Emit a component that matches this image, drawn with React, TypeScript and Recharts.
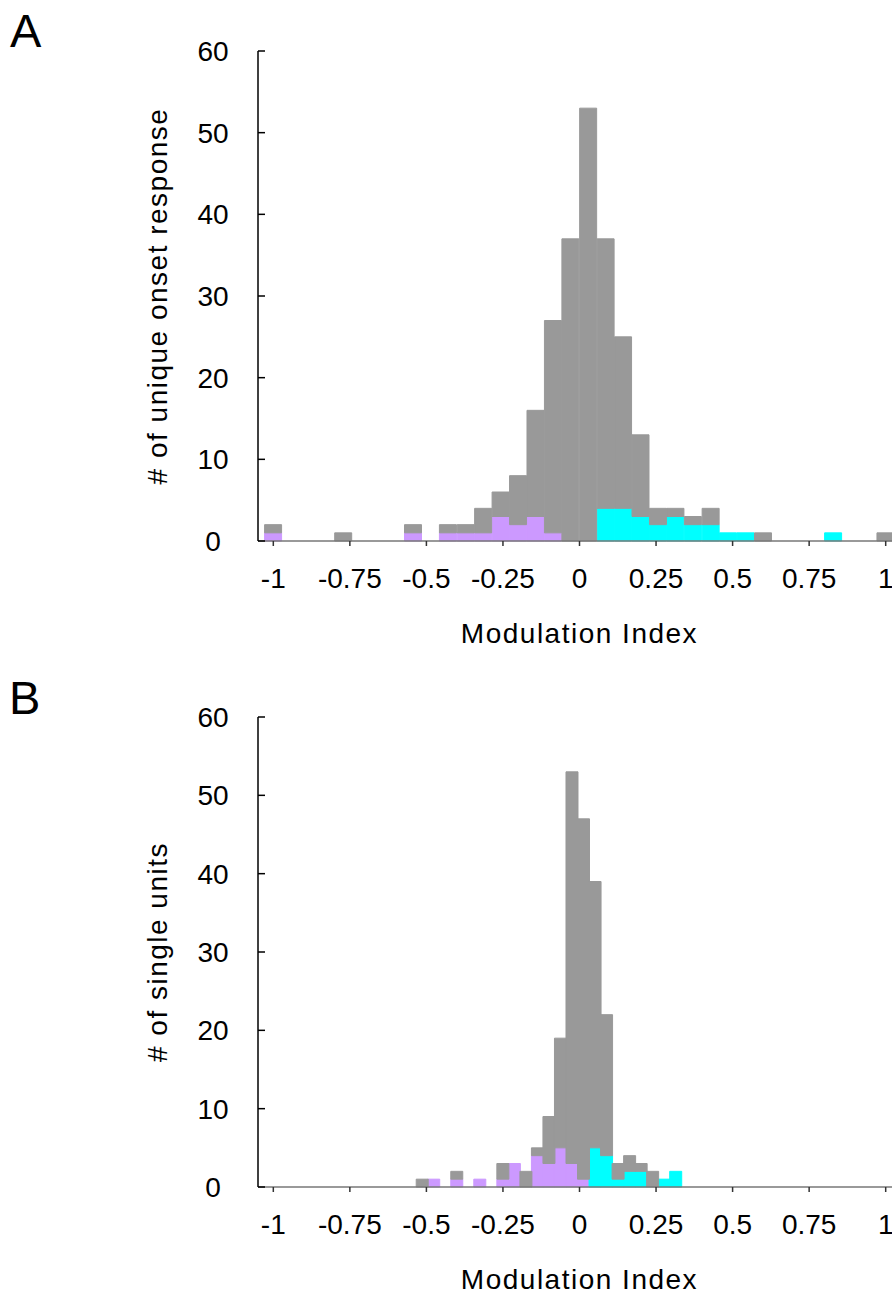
import React from "react";
import { BarChart, Bar, XAxis, YAxis } from "recharts";

// Panel A: bins of width 2/35, centred on -1 ... 1
const binsA = [
  -1, -0.943, -0.886, -0.829, -0.771, -0.714, -0.657, -0.6, -0.543, -0.486, -0.429, -0.371,
  -0.314, -0.257, -0.2, -0.143, -0.086, -0.029, 0.029, 0.086, 0.143, 0.2, 0.257, 0.314,
  0.371, 0.429, 0.486, 0.543, 0.6, 0.657, 0.714, 0.771, 0.829, 0.886, 0.943, 1,
];
const totalA = [
  2, 0, 0, 0, 1, 0, 0, 0, 2, 0, 2, 2, 4, 6, 8, 16, 27, 37, 53, 37, 25, 13, 4, 4, 3, 4, 1, 1, 1,
  0, 0, 0, 1, 0, 0, 1,
];
const negA = [
  1, 0, 0, 0, 0, 0, 0, 0, 1, 0, 1, 1, 1, 3, 2, 3, 1, 0, 0, 0, 0, 0, 0, 0, 0, 0, 0, 0, 0, 0, 0,
  0, 0, 0, 0, 0,
];
const posA = [
  0, 0, 0, 0, 0, 0, 0, 0, 0, 0, 0, 0, 0, 0, 0, 0, 0, 0, 0, 4, 4, 3, 2, 3, 2, 2, 1, 1, 0, 0, 0,
  0, 1, 0, 0, 0,
];

// Panel B: narrower bins covering the data range only
const binsB = [
  -0.5145, -0.4769, -0.4392, -0.4016, -0.364, -0.3264, -0.2887, -0.2511, -0.2135, -0.1758,
  -0.1382, -0.1006, -0.0629, -0.0253, 0.0123, 0.05, 0.0876, 0.1252, 0.1629, 0.2005, 0.2381,
  0.2758, 0.3134,
];
const totalB = [1, 1, 0, 2, 0, 1, 0, 3, 3, 2, 5, 9, 19, 53, 47, 39, 22, 3, 4, 3, 2, 1, 2];
const negB = [0, 1, 0, 1, 0, 1, 0, 1, 3, 0, 4, 3, 5, 3, 1, 0, 0, 0, 0, 0, 0, 0, 0];
const posB = [0, 0, 0, 0, 0, 0, 0, 0, 0, 0, 0, 0, 0, 0, 0, 5, 4, 1, 2, 2, 0, 1, 2];

const miTicks = [-1, -0.75, -0.5, -0.25, 0, 0.25, 0.5, 0.75, 1];
const countTicks = [0, 10, 20, 30, 40, 50, 60];

const FONT = '"Liberation Sans", Arial, Helvetica, sans-serif';
const GRAY = "#999999";
const PURPLE = "#cc99ff";
const CYAN = "#00ffff";

// the figure runs right up to the page edges
if (typeof document !== "undefined") {
  document.body.style.margin = "0";
}

function buildRows(bins: number[], total: number[], neg: number[], pos: number[]) {
  return bins.map((mi, i) => ({
    mi,
    neg: neg[i],
    pos: pos[i],
    rest: total[i] - neg[i] - pos[i],
  }));
}

function Histogram({
  rows,
  yLabel,
  height,
  top,
}: {
  rows: any[];
  yLabel: string;
  height: number;
  top: number;
}) {
  return (
    <BarChart
      width={901}
      height={height}
      data={rows}
      margin={{ top, right: 0, bottom: 0, left: 56 }}
      barCategoryGap={0}
      barGap={0}
      style={{ fontFamily: FONT }}
    >
      <XAxis
        dataKey="mi"
        type="number"
        domain={[-1.05, 1.05]}
        allowDataOverflow
        ticks={miTicks}
        interval={0}
        height={109}
        tickSize={5}
        tickMargin={22}
        axisLine={{ stroke: "#777777", strokeWidth: 1.5 }}
        tickLine={{ stroke: "#333333", strokeWidth: 1.5 }}
        tick={{ fill: "#000000", fontSize: 28 }}
        label={{
          value: "Modulation Index",
          position: "insideBottom",
          offset: 7,
          fontSize: 28,
          fill: "#000000",
          letterSpacing: 1.5,
        }}
      />
      <YAxis
        type="number"
        domain={[0, 60]}
        ticks={countTicks}
        interval={0}
        width={202}
        tickSize={-7}
        tickMargin={52}
        axisLine={{ stroke: "#000000", strokeWidth: 1.5 }}
        tickLine={{ stroke: "#000000", strokeWidth: 1.5 }}
        tick={{ fill: "#000000", fontSize: 28, textAnchor: "middle" }}
        label={{
          value: yLabel,
          angle: -90,
          position: "center",
          fontSize: 28,
          fill: "#000000",
          letterSpacing: 1.5,
        }}
      />
      <Bar dataKey="neg" stackId="h" fill={PURPLE} stroke={PURPLE} strokeWidth={1} isAnimationActive={false} />
      <Bar dataKey="pos" stackId="h" fill={CYAN} stroke={CYAN} strokeWidth={1} isAnimationActive={false} />
      <Bar dataKey="rest" stackId="h" fill={GRAY} stroke={GRAY} strokeWidth={1} isAnimationActive={false} />
    </BarChart>
  );
}

const letterStyle: React.CSSProperties = {
  position: "absolute",
  fontFamily: FONT,
  fontSize: 47,
  lineHeight: 1,
  color: "#000000",
};

export default function App() {
  const rowsA = buildRows(binsA, totalA, negA, posA);
  const rowsB = buildRows(binsB, totalB, negB, posB);
  return (
    <div
      style={{
        position: "relative",
        width: 892,
        height: 1301,
        overflow: "hidden",
        background: "#ffffff",
      }}
    >
      <div style={{ ...letterStyle, left: 10, top: 7 }}>A</div>
      <div style={{ ...letterStyle, left: 9, top: 674 }}>B</div>
      <div style={{ position: "absolute", left: 0, top: 0 }}>
        <Histogram rows={rowsA} yLabel="# of unique onset response" height={650} top={51} />
      </div>
      <div style={{ position: "absolute", left: 0, top: 650 }}>
        <Histogram rows={rowsB} yLabel="# of single units" height={646} top={67} />
      </div>
    </div>
  );
}
